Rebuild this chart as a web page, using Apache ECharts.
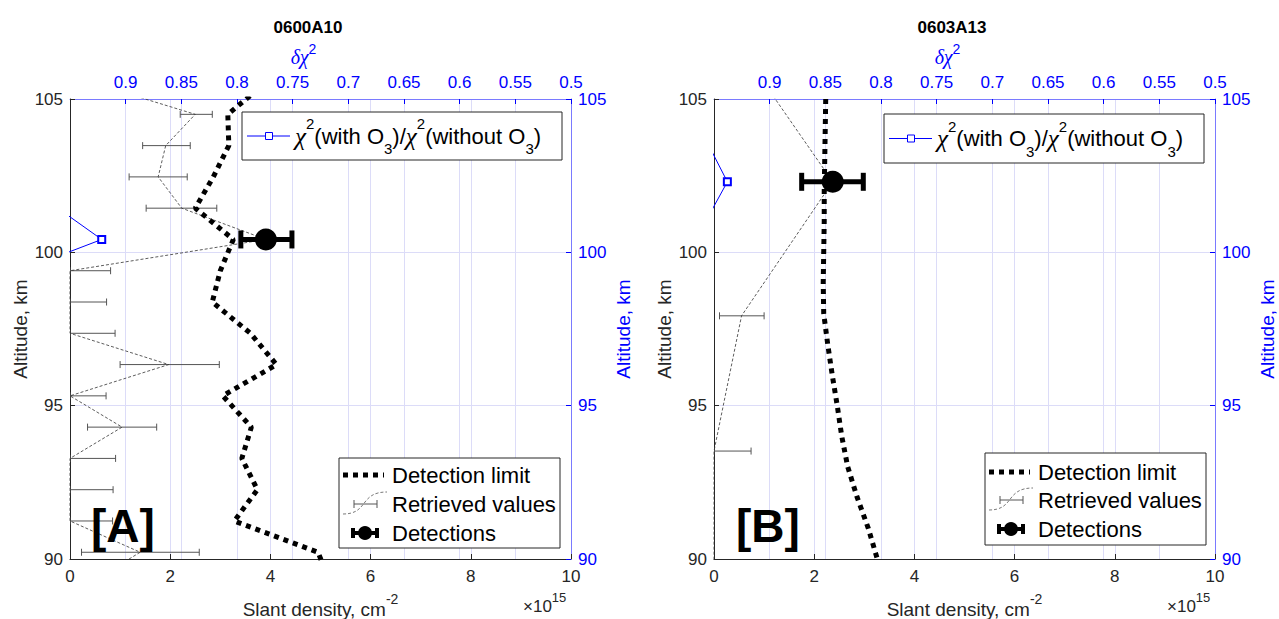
<!DOCTYPE html>
<html><head><meta charset="utf-8">
<script src="https://cdn.jsdelivr.net/npm/echarts@6/dist/echarts.min.js"></script>
<style>html,body{margin:0;padding:0;background:#fff}#c{width:1279px;height:619px}</style>
</head><body><div id="c"></div>
<script>
// ---------- DATA (slant density in units of 1e15 cm^-2, altitude in km) ----------
const panelTitles = ['0600A10', '0603A13'];
const panelTags = ['[A]', '[B]'];

// Panel A
const altA = [105.52, 104.5, 103.48, 102.46, 101.44, 100.42, 99.40, 98.38, 97.36, 96.34, 95.32, 94.30, 93.28, 92.26, 91.24, 90.22, 89.20];
const detLimitA = [3.9, 3.15, 3.17, 2.86, 2.50, 3.26, 3.0, 2.84, 3.6, 4.12, 3.05, 3.62, 3.43, 3.74, 3.28, 4.95, 5.2];
const retrievedA = [0.46, 2.5, 1.91, 1.76, 2.23, 3.91, 0, 0, 0, 1.97, 0, 1.04, 0, 0, 0, 1.4, 0.38];
const errAltA = [104.5, 103.48, 102.46, 101.44, 99.40, 98.38, 97.36, 96.34, 95.32, 94.30, 93.28, 92.26, 91.24, 90.22];
const errLoA = [2.2, 1.45, 1.18, 1.52, 0, 0, 0, 1.0, 0, 0.35, 0, 0, 0, 0.23];
const errHiA = [2.84, 2.40, 2.34, 2.93, 0.81, 0.73, 0.90, 2.98, 0.72, 1.73, 0.91, 0.86, 0.85, 2.58];
const detectAltA = [100.42];
const detectValA = [3.91];
const detectLoA = [3.41];
const detectHiA = [4.43];
const chiAltA = [101.44, 100.42, 99.40];
const chiA = [0.961, 0.9215, 0.995];

// Panel B
const altDetB = [105, 104, 103, 102, 101, 100, 99, 98, 97, 96, 95, 94, 93, 92, 91, 90];
const detLimitB = [2.23, 2.22, 2.21, 2.2, 2.2, 2.19, 2.18, 2.19, 2.27, 2.36, 2.46, 2.55, 2.67, 2.86, 3.08, 3.26];
const altB = [106.7, 102.3, 97.93, 93.52, 89.12];
const retrievedB = [0.5, 2.37, 0.55, 0, 0];
const errAltB = [97.93, 93.52];
const errLoB = [0.11, 0];
const errHiB = [1.0, 0.74];
const detectAltB = [102.3];
const detectValB = [2.37];
const detectLoB = [1.75];
const detectHiB = [2.98];
const chiAltB = [106.7, 102.3, 97.93];
const chiB = [1.0, 0.938, 1.004];

// axis ticks
const xTicks = {min: 0, max: 10, interval: 2};
const topTicks = {min: 0.5, max: 0.95, interval: 0.05};
const yTicks = {min: 90, max: 105, interval: 5};

// ---------- STYLE ----------
const FONT = 'Liberation Sans';
const BLUE = '#0000ff';
const DARK = '#262626';
const GRIDC = '#dcdcf8';

const panels = [
  {
    left: 70, titleX: 303,
    det: {alt: altA, val: detLimitA},
    ret: {alt: altA, val: retrievedA},
    err: {alt: errAltA, lo: errLoA, hi: errHiA},
    hit: {alt: detectAltA, val: detectValA, lo: detectLoA, hi: detectHiA},
    chi: {alt: chiAltA, val: chiA},
    topLeg: {x: 242, y: 112, w: 320, h: 48},
    botLeg: {x: 339, y: 458, w: 221, h: 90, rows: [17, 46, 75]},
    tagX: 91, expX: 523
  },
  {
    left: 714, titleX: 947,
    det: {alt: altDetB, val: detLimitB},
    ret: {alt: altB, val: retrievedB},
    err: {alt: errAltB, lo: errLoB, hi: errHiB},
    hit: {alt: detectAltB, val: detectValB, lo: detectLoB, hi: detectHiB},
    chi: {alt: chiAltB, val: chiB},
    topLeg: {x: 884, y: 114, w: 320, h: 49},
    botLeg: {x: 985, y: 453, w: 221, h: 92, rows: [19, 47, 76]},
    tagX: 736, expX: 1167
  }
];

const chart = echarts.init(document.getElementById('c'), null, {renderer: 'svg'});

function errRender(capH, lw, color) {
  return function (params, api) {
    const y = api.value(2);
    const a = api.coord([api.value(0), y]);
    const b = api.coord([api.value(1), y]);
    const st = {stroke: color, lineWidth: lw, fill: null};
    return {
      type: 'group',
      children: [
        {type: 'line', shape: {x1: a[0], y1: a[1], x2: b[0], y2: b[1]}, style: st},
        {type: 'line', shape: {x1: a[0], y1: a[1] - capH, x2: a[0], y2: a[1] + capH}, style: st},
        {type: 'line', shape: {x1: b[0], y1: b[1] - capH, x2: b[0], y2: b[1] + capH}, style: st}
      ]
    };
  };
}

const grids = [], xAxes = [], yAxes = [], series = [], titles = [], graphics = [];

panels.forEach((p, gi) => {
  grids.push({left: p.left, top: 99, width: 501, height: 460, containLabel: false, outerBoundsMode: 'none'});
  xAxes.push({
    gridIndex: gi, type: 'value', position: 'bottom',
    min: xTicks.min, max: xTicks.max, interval: xTicks.interval,
    axisLine: {show: true, onZero: false, lineStyle: {color: DARK, width: 1}},
    axisTick: {show: true, inside: true, length: 5, lineStyle: {color: DARK}},
    axisLabel: {color: DARK, fontSize: 17, fontFamily: FONT, margin: 9},
    splitLine: {show: true, lineStyle: {color: GRIDC, width: 1}},
    name: '{a|Slant density, cm}{s|-2}', nameLocation: 'middle', nameGap: 33,
    nameTextStyle: {rich: {
      a: {fontSize: 19, fontFamily: FONT, color: DARK, lineHeight: 34, verticalAlign: 'middle'},
      s: {fontSize: 14, fontFamily: FONT, color: DARK, lineHeight: 14, verticalAlign: 'top'}
    }}
  });
  xAxes.push({
    gridIndex: gi, type: 'value', position: 'top', inverse: true,
    min: topTicks.min, max: topTicks.max, interval: topTicks.interval,
    axisLine: {show: true, onZero: false, lineStyle: {color: '#7a7aff', width: 1}},
    axisTick: {show: true, inside: true, length: 5, lineStyle: {color: BLUE}},
    axisLabel: {color: BLUE, fontSize: 17, fontFamily: FONT, margin: 8, showMaxLabel: false,
      formatter: v => String(+(+v).toFixed(2))},
    splitLine: {show: true, lineStyle: {color: GRIDC, width: 1}},
    name: '{g|δχ}{s|2}', nameLocation: 'middle', nameGap: 27,
    nameTextStyle: {padding: [0, 34, 0, 0], rich: {
      g: {fontSize: 20, fontFamily: 'Liberation Serif', fontStyle: 'italic', color: BLUE, lineHeight: 30, verticalAlign: 'middle'},
      s: {fontSize: 14, fontFamily: FONT, color: BLUE, lineHeight: 14, verticalAlign: 'top'}
    }}
  });
  yAxes.push({
    gridIndex: gi, type: 'value', position: 'left',
    min: yTicks.min, max: yTicks.max, interval: yTicks.interval,
    axisLine: {show: true, onZero: false, lineStyle: {color: DARK, width: 1}},
    axisTick: {show: true, inside: true, length: 5, lineStyle: {color: DARK}},
    axisLabel: {color: DARK, fontSize: 17, fontFamily: FONT, margin: 7},
    splitLine: {show: true, lineStyle: {color: GRIDC, width: 1}},
    name: 'Altitude, km', nameLocation: 'middle', nameGap: 40,
    nameTextStyle: {fontSize: 19, fontFamily: FONT, color: DARK}
  });
  yAxes.push({
    gridIndex: gi, type: 'value', position: 'right',
    min: yTicks.min, max: yTicks.max, interval: yTicks.interval,
    axisLine: {show: true, onZero: false, lineStyle: {color: '#7a7aff', width: 1}},
    axisTick: {show: true, inside: true, length: 5, lineStyle: {color: BLUE}},
    axisLabel: {color: BLUE, fontSize: 17, fontFamily: FONT, margin: 7},
    splitLine: {show: false},
    name: 'Altitude, km', nameLocation: 'middle', nameGap: 43,
    nameTextStyle: {fontSize: 19, fontFamily: FONT, color: BLUE}
  });

  const xb = gi * 2, xt = gi * 2 + 1, yl = gi * 2;

  series.push({
    type: 'line', name: 'Detection limit', xAxisIndex: xb, yAxisIndex: yl,
    data: p.det.alt.map((a, i) => [p.det.val[i], a]),
    symbol: 'none', clip: true, z: 4, silent: true,
    lineStyle: {color: '#000', width: 5, type: [5, 5], cap: 'butt', opacity: 1}
  });
  series.push({
    type: 'line', name: 'Retrieved values', xAxisIndex: xb, yAxisIndex: yl,
    data: p.ret.alt.map((a, i) => [p.ret.val[i], a]),
    symbol: 'none', clip: true, z: 3, silent: true,
    lineStyle: {color: '#333', width: 0.8, type: [3, 2]}
  });
  series.push({
    type: 'custom', name: 'Retrieved errors', xAxisIndex: xb, yAxisIndex: yl,
    data: p.err.alt.map((a, i) => [p.err.lo[i], p.err.hi[i], a]),
    encode: {x: [0, 1], y: 2}, clip: true, z: 3, silent: true,
    renderItem: errRender(3.5, 1, '#555')
  });
  series.push({
    type: 'custom', name: 'Detection errors', xAxisIndex: xb, yAxisIndex: yl,
    data: p.hit.alt.map((a, i) => [p.hit.lo[i], p.hit.hi[i], a]),
    encode: {x: [0, 1], y: 2}, clip: true, z: 5, silent: true,
    renderItem: errRender(9, 5, '#000')
  });
  series.push({
    type: 'scatter', name: 'Detections', xAxisIndex: xb, yAxisIndex: yl,
    data: p.hit.alt.map((a, i) => [p.hit.val[i], a]),
    symbol: 'circle', symbolSize: 22, z: 6, silent: true,
    itemStyle: {color: '#000', opacity: 1}
  });
  series.push({
    type: 'line', name: 'chi2 ratio', xAxisIndex: xt, yAxisIndex: yl,
    data: p.chi.alt.map((a, i) => ({value: [p.chi.val[i], a], symbol: i === 1 ? 'emptyRect' : 'none'})),
    symbolSize: 7, clip: true, z: 4, silent: true, showAllSymbol: true,
    itemStyle: {color: BLUE, borderWidth: 1},
    lineStyle: {color: BLUE, width: 1}
  });

  titles.push({
    text: panelTitles[gi], left: p.titleX, top: 14, textAlign: 'center',
    textStyle: {fontSize: 17, fontWeight: 'bold', fontFamily: FONT, color: '#000'}
  });

  // top legend
  const t = p.topLeg, cy = t.y + t.h / 2;
  graphics.push({type: 'rect', z: 100, shape: {x: t.x, y: t.y, width: t.w, height: t.h}, style: {fill: '#fff', stroke: DARK, lineWidth: 1}});
  graphics.push({type: 'line', z: 101, shape: {x1: t.x + 5, y1: cy, x2: t.x + 48, y2: cy}, style: {stroke: BLUE, lineWidth: 1}});
  graphics.push({type: 'rect', z: 102, shape: {x: t.x + 23.5, y: cy - 3.5, width: 7, height: 7}, style: {fill: '#fff', stroke: BLUE, lineWidth: 1}});
  graphics.push({type: 'text', z: 101, x: t.x + 53, y: cy, style: {
    text: '{g|χ}{s|2}{t|(with O}{b|3}{t|)/}{g|χ}{s|2}{t|(without O}{b|3}{t|)}',
    align: 'left', verticalAlign: 'middle', textAlign: 'left', textVerticalAlign: 'middle',
    rich: {
      g: {fontFamily: 'Liberation Serif', fontStyle: 'italic', fontSize: 25, lineHeight: 40, verticalAlign: 'middle', fill: '#000'},
      s: {fontFamily: FONT, fontSize: 15, lineHeight: 16, verticalAlign: 'top', fill: '#000'},
      t: {fontFamily: FONT, fontSize: 22, lineHeight: 40, verticalAlign: 'middle', fill: '#000'},
      b: {fontFamily: FONT, fontSize: 15, lineHeight: 20, verticalAlign: 'bottom', fill: '#000'}
    }
  }});

  // bottom legend
  const b = p.botLeg;
  const r1 = b.y + b.rows[0], r2 = b.y + b.rows[1], r3 = b.y + b.rows[2];
  graphics.push({type: 'rect', z: 100, shape: {x: b.x, y: b.y, width: b.w, height: b.h}, style: {fill: '#fff', stroke: DARK, lineWidth: 1}});
  graphics.push({type: 'line', z: 101, shape: {x1: b.x + 4, y1: r1, x2: b.x + 45, y2: r1}, style: {stroke: '#000', lineWidth: 5, lineDash: [5, 5]}});
  graphics.push({type: 'bezierCurve', z: 101, shape: {x1: b.x + 4, y1: r2 + 10, cpx1: b.x + 30, cpy1: r2 + 10, cpx2: b.x + 20, cpy2: r2 - 12, x2: b.x + 48, y2: r2 - 12}, style: {stroke: '#555', lineWidth: 0.8, lineDash: [3, 2], fill: null}});
  graphics.push({type: 'line', z: 101, shape: {x1: b.x + 15, y1: r2, x2: b.x + 38, y2: r2}, style: {stroke: '#555', lineWidth: 1}});
  graphics.push({type: 'line', z: 101, shape: {x1: b.x + 15, y1: r2 - 4, x2: b.x + 15, y2: r2 + 4}, style: {stroke: '#555', lineWidth: 1}});
  graphics.push({type: 'line', z: 101, shape: {x1: b.x + 38, y1: r2 - 4, x2: b.x + 38, y2: r2 + 4}, style: {stroke: '#555', lineWidth: 1}});
  graphics.push({type: 'line', z: 101, shape: {x1: b.x + 14, y1: r3, x2: b.x + 38, y2: r3}, style: {stroke: '#000', lineWidth: 4}});
  graphics.push({type: 'line', z: 101, shape: {x1: b.x + 14, y1: r3 - 5, x2: b.x + 14, y2: r3 + 5}, style: {stroke: '#000', lineWidth: 4}});
  graphics.push({type: 'line', z: 101, shape: {x1: b.x + 38, y1: r3 - 5, x2: b.x + 38, y2: r3 + 5}, style: {stroke: '#000', lineWidth: 4}});
  graphics.push({type: 'circle', z: 102, shape: {cx: b.x + 26, cy: r3, r: 7}, style: {fill: '#000'}});
  [['Detection limit', r1], ['Retrieved values', r2], ['Detections', r3]].forEach(([txt, yy]) => {
    graphics.push({type: 'text', z: 101, x: b.x + 53, y: yy, style: {
      text: txt, fontFamily: FONT, fontSize: 22, fill: '#000',
      align: 'left', verticalAlign: 'middle', textAlign: 'left', textVerticalAlign: 'middle'
    }});
  });

  graphics.push({type: 'text', z: 50, x: p.tagX, y: 526, style: {
    text: panelTags[gi], fontFamily: FONT, fontSize: 46, fontWeight: 'bold', fill: '#000',
    align: 'left', verticalAlign: 'middle', textAlign: 'left', textVerticalAlign: 'middle'
  }});
  graphics.push({type: 'text', z: 50, x: p.expX, y: 606, style: {
    text: '{a|×10}{s|15}', align: 'left', verticalAlign: 'middle', textAlign: 'left', textVerticalAlign: 'middle',
    rich: {
      a: {fontFamily: FONT, fontSize: 17, lineHeight: 30, verticalAlign: 'middle', fill: DARK},
      s: {fontFamily: FONT, fontSize: 13, lineHeight: 13, verticalAlign: 'top', fill: DARK}
    }
  }});
});

chart.setOption({
  animation: false,
  backgroundColor: '#fff',
  title: titles,
  grid: grids,
  xAxis: xAxes,
  yAxis: yAxes,
  series: series,
  graphic: graphics
});
</script></body></html>
